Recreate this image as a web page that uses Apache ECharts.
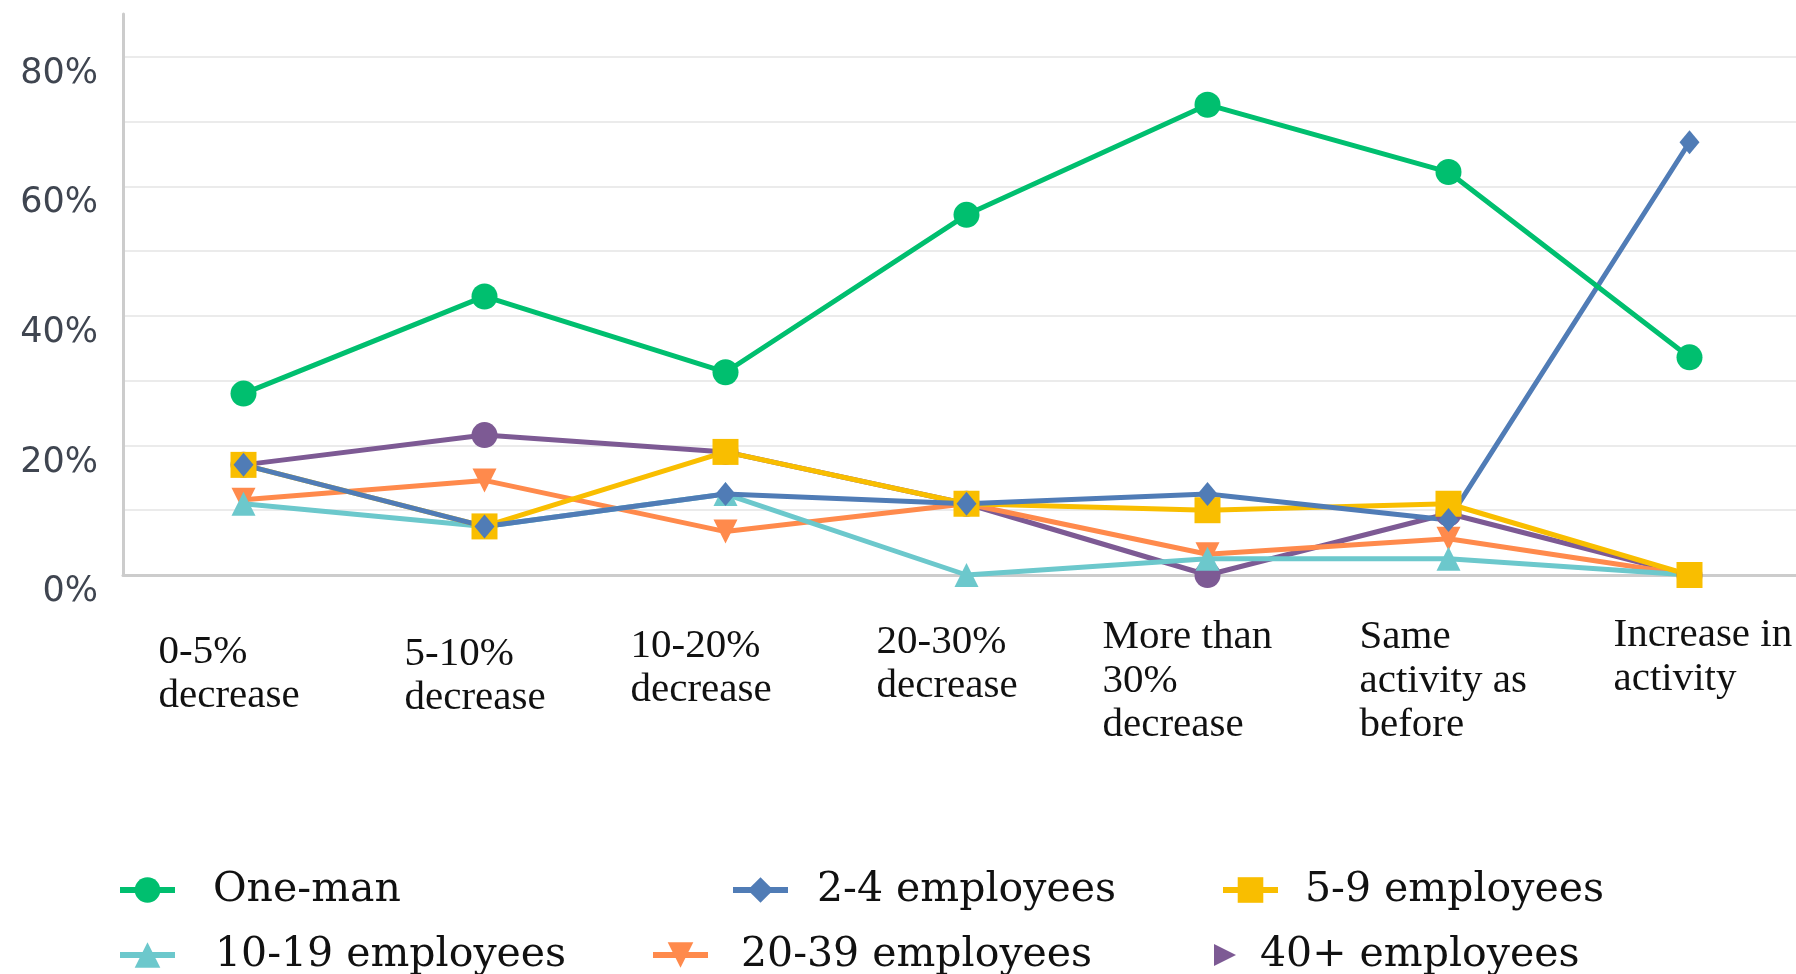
<!DOCTYPE html>
<html>
<head>
<meta charset="utf-8">
<script src="https://cdn.jsdelivr.net/npm/echarts@6/dist/echarts.min.js"></script>
<style>
html,body{margin:0;padding:0;background:#fff;}
#chart{width:1796px;height:974px;}
</style>
</head>
<body>
<div id="chart"></div>
<script>
// ---- data ----
const categories = ['0-5%\ndecrease', '5-10%\ndecrease', '10-20%\ndecrease', '20-30%\ndecrease',
  'More than\n30%\ndecrease', 'Same\nactivity as\nbefore', 'Increase in\nactivity'];
const yTickValues = [0, 20, 40, 60, 80];
const yTickLabels = ['0%', '20%', '40%', '60%', '80%'];
const seriesNames = ['One-man', '2-4 employees', '5-9 employees', '10-19 employees', '20-39 employees', '40+ employees'];
const oneMan      = [28, 43, 31.3, 55.6, 72.6, 62.2, 33.6];
const emp2to4     = [17, 7.5, 12.5, 11, 12.5, 8.5, 66.8];
const emp5to9     = [17, 7.5, 19, 11, 10, 11, 0];
const emp10to19   = [11, 7.5, 12.5, 0, 2.5, 2.5, 0];
const emp20to39   = [11.6, 14.6, 6.7, 11, 3.2, 5.6, 0];
const emp40plus   = [17, 21.6, 19, 11, 0, 9.5, 0];

// ---- label layout (offsets in px, per category) ----
const labelDx = [3, 8, -7, -2, -17, -1, 12];
const labelDy = [9, 11, 3, -1, -6, -6, -8];

// ---- styles ----
const styleMap = {
  'One-man':         {color: '#00BF6F', symbol: 'circle',   size: 26, rotate: 0},
  '2-4 employees':   {color: '#507CB6', symbol: 'diamond',  size: [20, 24], rotate: 0},
  '5-9 employees':   {color: '#F9BE00', symbol: 'rect',     size: 26, rotate: 0},
  '10-19 employees': {color: '#6CC8CC', symbol: 'triangle', size: 24, rotate: 0},
  '20-39 employees': {color: '#FF8A4C', symbol: 'triangle', size: 24, rotate: 180},
  '40+ employees':   {color: '#7D5A94', symbol: 'circle',   size: 26, rotate: 0}
};
const valuesByName = {
  'One-man': oneMan, '2-4 employees': emp2to4, '5-9 employees': emp5to9,
  '10-19 employees': emp10to19, '20-39 employees': emp20to39, '40+ employees': emp40plus
};
const drawOrder = ['40+ employees', '20-39 employees', '10-19 employees', '5-9 employees', '2-4 employees', 'One-man'];

const series = drawOrder.map(name => {
  const s = styleMap[name];
  return {
    name: name,
    type: 'line',
    data: valuesByName[name],
    symbol: s.symbol,
    symbolSize: s.size,
    symbolRotate: s.rotate,
    showAllSymbol: true,
    lineStyle: {color: s.color, width: 5},
    itemStyle: {color: s.color},
    emphasis: {disabled: true},
    animation: false
  };
});

const catLabelStyle = {
  align: 'left',
  fontFamily: 'Liberation Serif',
  fontSize: 41,
  lineHeight: 44,
  color: '#111111'
};
const xAxisData = categories.map((c, i) => ({
  value: c,
  textStyle: Object.assign({}, catLabelStyle, {padding: [labelDy[i], 0, 0, -88 + labelDx[i]]})
}));

const legendLayout = [
  {name: 'One-man',         left: 117,  top: 866, pad: 33},
  {name: '2-4 employees',   left: 730,  top: 866, pad: 24},
  {name: '5-9 employees',   left: 1220, top: 866, pad: 22},
  {name: '10-19 employees', left: 117,  top: 931, pad: 35},
  {name: '20-39 employees', left: 650,  top: 931, pad: 28},
  {name: '40+ employees',   left: 1214, top: 931, pad: 19, icon: 'path://M0,0L10,5L0,10Z', w: 22, h: 26}
];
const legends = legendLayout.map(l => ({
  show: true,
  left: l.left,
  top: l.top,
  padding: 0,
  orient: 'horizontal',
  selectedMode: false,
  itemWidth: l.w || 55,
  itemHeight: l.h || 32,
  lineStyle: {width: 6},
  data: [l.icon ? {name: l.name, icon: l.icon} : {name: l.name}],
  textStyle: {
    fontFamily: 'DejaVu Serif',
    fontSize: 41,
    color: '#111111',
    padding: [0, 0, 0, l.pad],
    lineHeight: 48
  }
}));

const chart = echarts.init(document.getElementById('chart'), null, {renderer: 'canvas'});
chart.setOption({
  backgroundColor: '#ffffff',
  animation: false,
  grid: {left: 123, right: -14, top: 14, bottom: 399, containLabel: false, outerBoundsMode: 'none'},
  legend: legends,
  xAxis: {
    type: 'category',
    data: xAxisData,
    boundaryGap: true,
    axisLine: {show: true, lineStyle: {color: '#cccccc', width: 3}},
    axisTick: {show: false},
    splitLine: {show: false},
    axisLabel: Object.assign({interval: 0, margin: 46, padding: [0, 0, 0, -88]}, catLabelStyle)
  },
  yAxis: {
    type: 'value',
    min: 0,
    max: 86.6,
    interval: 10,
    axisLine: {show: true, lineStyle: {color: '#cccccc', width: 3}},
    axisTick: {show: false},
    splitLine: {show: true, showMaxLine: false, lineStyle: {color: '#ebebeb', width: 2}},
    axisLabel: {
      margin: 25,
      showMaxLabel: false,
      verticalAlign: 'top',
      lineHeight: 34,
      fontFamily: 'DejaVu Sans',
      fontSize: 35,
      color: '#3f4550',
      formatter: function (v) {
        const i = yTickValues.indexOf(Math.round(v * 1000) / 1000);
        return i >= 0 ? yTickLabels[i] : '';
      }
    }
  },
  series: series
});
</script>
</body>
</html>
